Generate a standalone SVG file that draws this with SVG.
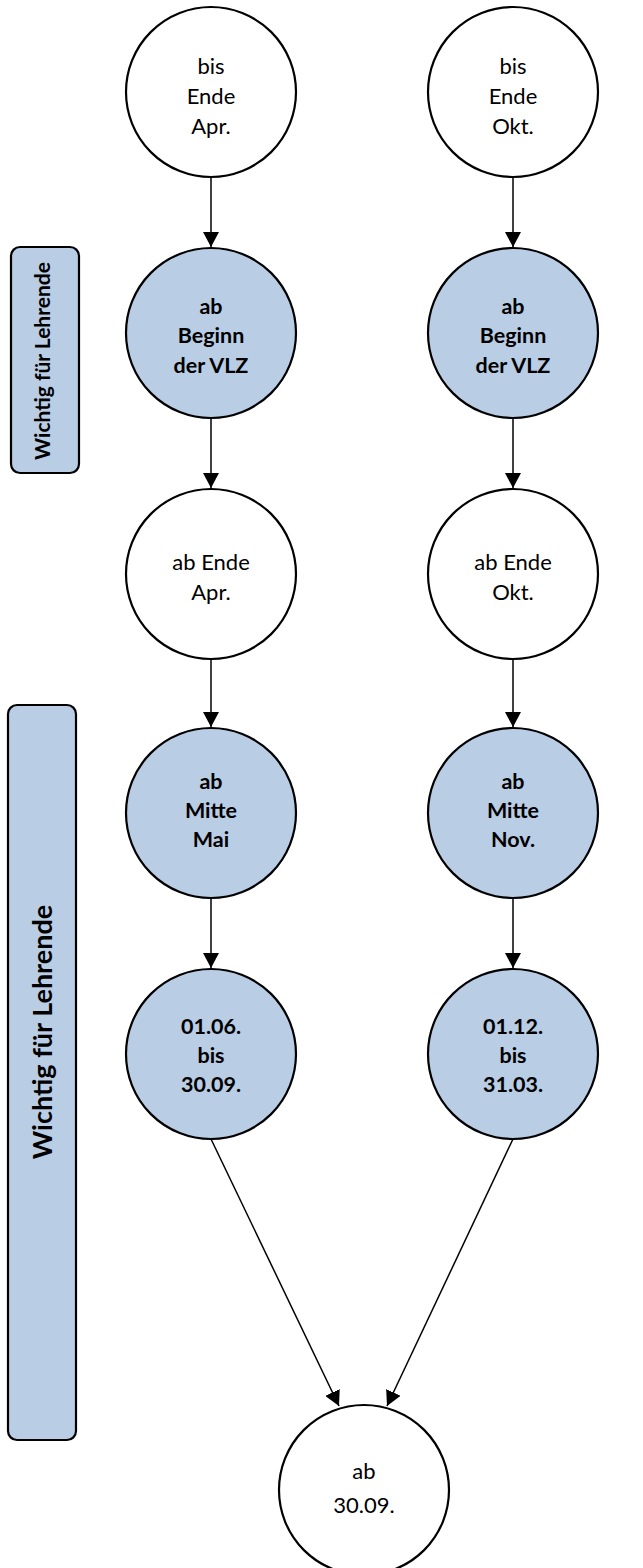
<svg xmlns="http://www.w3.org/2000/svg" width="643" height="1568" viewBox="0 0 643 1568">
<defs>
<style>
.n{stroke:#000;stroke-width:2.2}
.w{fill:#fff}
.b{fill:#b9cde5}
.t{font-family:Lato,"Liberation Sans",sans-serif;font-size:22px;fill:#000;text-anchor:middle}
.tb{font-family:Lato,"Liberation Sans",sans-serif;font-size:21.5px;font-weight:bold;fill:#000;text-anchor:middle}
.c{stroke:#000;stroke-width:1.5;fill:none;marker-end:url(#ah)}
</style>
<marker id="ah" markerUnits="userSpaceOnUse" markerWidth="16" markerHeight="16" refX="15" refY="8" orient="auto">
<path d="M0,0 L15,8 L0,16 z" fill="#000"/>
</marker>
</defs>
<rect width="643" height="1568" fill="#fff"/>
<g id="connectors">
<line class="c" x1="211" y1="177" x2="211" y2="247"/>
<line class="c" x1="513" y1="177" x2="513" y2="247"/>
<line class="c" x1="211" y1="418" x2="211" y2="488"/>
<line class="c" x1="513" y1="418" x2="513" y2="488"/>
<line class="c" x1="211" y1="659" x2="211" y2="727"/>
<line class="c" x1="513" y1="659" x2="513" y2="727"/>
<line class="c" x1="211" y1="898" x2="211" y2="968"/>
<line class="c" x1="513" y1="898" x2="513" y2="968"/>
<line class="c" x1="211" y1="1139" x2="339" y2="1406"/>
<line class="c" x1="513" y1="1139" x2="387" y2="1406"/>
</g>
<g id="label-top">
<rect class="n b" x="11" y="247" width="68" height="226" rx="9"/>
<text class="tb" transform="translate(50,361) rotate(-90)" style="font-size:21px">Wichtig für Lehrende</text>
</g>
<g id="label-big">
<rect class="n b" x="8" y="705" width="68" height="735" rx="9"/>
<text class="tb" transform="translate(52,1032) rotate(-90)" style="font-size:27px">Wichtig für Lehrende</text>
</g>
<g id="n1">
<circle class="n w" cx="211" cy="92" r="85"/>
<text class="t" x="211" y="74">bis</text>
<text class="t" x="211" y="104">Ende</text>
<text class="t" x="211" y="134">Apr.</text>
</g>
<g id="n2">
<circle class="n w" cx="513" cy="92" r="85"/>
<text class="t" x="513" y="74">bis</text>
<text class="t" x="513" y="104">Ende</text>
<text class="t" x="513" y="134">Okt.</text>
</g>
<g id="n3">
<circle class="n b" cx="211" cy="333" r="85"/>
<text class="tb" x="211" y="314">ab</text>
<text class="tb" x="211" y="343">Beginn</text>
<text class="tb" x="211" y="373">der VLZ</text>
</g>
<g id="n4">
<circle class="n b" cx="513" cy="333" r="85"/>
<text class="tb" x="513" y="314">ab</text>
<text class="tb" x="513" y="343">Beginn</text>
<text class="tb" x="513" y="373">der VLZ</text>
</g>
<g id="n5">
<circle class="n w" cx="211" cy="574" r="85"/>
<text class="t" x="211" y="570">ab Ende</text>
<text class="t" x="211" y="600">Apr.</text>
</g>
<g id="n6">
<circle class="n w" cx="513" cy="574" r="85"/>
<text class="t" x="513" y="570">ab Ende</text>
<text class="t" x="513" y="600">Okt.</text>
</g>
<g id="n7">
<circle class="n b" cx="211" cy="813" r="85"/>
<text class="tb" x="211" y="789">ab</text>
<text class="tb" x="211" y="818">Mitte</text>
<text class="tb" x="211" y="847">Mai</text>
</g>
<g id="n8">
<circle class="n b" cx="513" cy="813" r="85"/>
<text class="tb" x="513" y="789">ab</text>
<text class="tb" x="513" y="818">Mitte</text>
<text class="tb" x="513" y="847">Nov.</text>
</g>
<g id="n9">
<circle class="n b" cx="211" cy="1054" r="85"/>
<text class="tb" x="211" y="1034">01.06.</text>
<text class="tb" x="211" y="1063">bis</text>
<text class="tb" x="211" y="1092">30.09.</text>
</g>
<g id="n10">
<circle class="n b" cx="513" cy="1054" r="85"/>
<text class="tb" x="513" y="1034">01.12.</text>
<text class="tb" x="513" y="1063">bis</text>
<text class="tb" x="513" y="1092">31.03.</text>
</g>
<g id="n11">
<circle class="n w" cx="364" cy="1490" r="85"/>
<text class="t" x="364" y="1479">ab</text>
<text class="t" x="364" y="1513">30.09.</text>
</g>
</svg>
